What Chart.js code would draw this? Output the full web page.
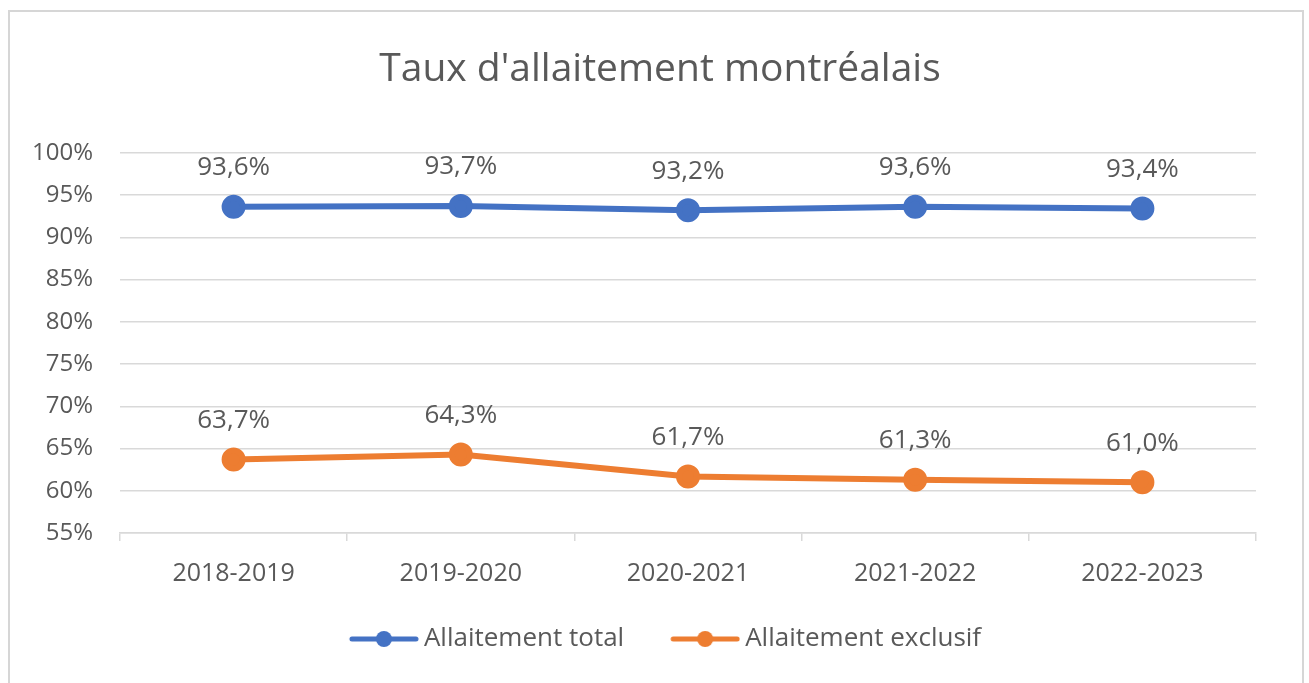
<!DOCTYPE html>
<html>
<head>
<meta charset="utf-8">
<script src="https://cdn.jsdelivr.net/npm/chart.js@4"></script>
<style>
  html, body { margin: 0; padding: 0; background: #fff; overflow: hidden; }
  #wrap { position: relative; width: 1309px; height: 683px; overflow: hidden; }
  #frame { position: absolute; left: 8px; top: 10px; width: 1296px; height: 680px; border: 2px solid #d6d6d6; box-sizing: border-box; }
  canvas { position: absolute; left: 0; top: 0; }
</style>
</head>
<body>
<div id="wrap">
  <div id="frame"></div>
  <canvas id="chart" width="1320" height="683"></canvas>
</div>
<script>
const labels = ['2018-2019', '2019-2020', '2020-2021', '2021-2022', '2022-2023'];
const totalData = [93.6, 93.7, 93.2, 93.6, 93.4];
const exclusifData = [63.7, 64.3, 61.7, 61.3, 61.0];
const yTicks = [55, 60, 65, 70, 75, 80, 85, 90, 95, 100];

const textColor = '#595959';
const blue = '#4472C4';
const orange = '#ED7D31';

// legend marker: line with a dot, drawn in the right 70px of the canvas
function legendMarker(color) {
    const c = document.createElement('canvas');
    c.width = 88;
    c.height = 20;
    const g = c.getContext('2d');
    g.strokeStyle = color;
    g.lineWidth = 5;
    g.lineCap = 'round';
    g.beginPath();
    g.moveTo(21, 10);
    g.lineTo(85, 10);
    g.stroke();
    g.fillStyle = color;
    g.beginPath();
    g.arc(53, 10, 8, 0, Math.PI * 2);
    g.fill();
    return c;
}

const fmt = v => v.toFixed(1).replace('.', ',') + '%';

const valueLabels = {
    id: 'valueLabels',
    afterDatasetsDraw(chart) {
        const ctx = chart.ctx;
        ctx.save();
        ctx.font = '26px "Open Sans"';
        ctx.fillStyle = textColor;
        ctx.textAlign = 'center';
        ctx.textBaseline = 'middle';
        chart.data.datasets.forEach((ds, i) => {
            chart.getDatasetMeta(i).data.forEach((pt, j) => {
                ctx.fillText(fmt(ds.data[j]), pt.x, pt.y - 39);
            });
        });
        ctx.restore();
    }
};

const ctx = document.getElementById('chart').getContext('2d');
new Chart(ctx, {
    type: 'line',
    data: {
        labels: labels,
        datasets: [
            {
                label: 'Allaitement total',
                data: totalData,
                borderColor: blue,
                backgroundColor: blue,
                borderWidth: 6,
                pointRadius: 9,
                pointHoverRadius: 9,
                tension: 0
            },
            {
                label: 'Allaitement exclusif',
                data: exclusifData,
                borderColor: orange,
                backgroundColor: orange,
                borderWidth: 6,
                pointRadius: 9,
                pointHoverRadius: 9,
                tension: 0
            }
        ]
    },
    options: {
        responsive: false,
        animation: false,
        layout: { padding: { left: 0, right: 0, top: 0, bottom: 21 } },
        plugins: {
            title: {
                display: true,
                text: "Taux d'allaitement montréalais",
                color: textColor,
                font: { family: 'Open Sans', size: 39, weight: 'normal' },
                padding: { top: 46, bottom: 60 }
            },
            legend: {
                position: 'bottom',
                labels: {
                    usePointStyle: true,
                    pointStyleWidth: 72,
                    color: textColor,
                    font: { family: 'Open Sans', size: 26 },
                    padding: 36,
                    generateLabels(chart) {
                        return chart.data.datasets.map((ds, i) => ({
                            text: ds.label,
                            fontColor: textColor,
                            pointStyle: legendMarker(ds.borderColor),
                            datasetIndex: i,
                            hidden: false,
                            lineWidth: 0
                        }));
                    }
                }
            },
            tooltip: { enabled: false }
        },
        scales: {
            x: {
                offset: true,
                grid: { offset: true, drawOnChartArea: false, drawTicks: true, tickLength: 8, color: '#d9d9d9', lineWidth: 1.5 },
                border: { display: true, color: '#d9d9d9', width: 1.5 },
                ticks: { color: textColor, font: { family: 'Open Sans', size: 25 }, padding: 18 },
                afterFit(scale) { scale.height = 57; }
            },
            y: {
                min: 55,
                max: 100,
                afterBuildTicks(scale) { scale.ticks = yTicks.map(v => ({ value: v })); },
                grid: { drawTicks: false, color: '#d9d9d9', lineWidth: 1.5 },
                border: { display: false },
                ticks: {
                    color: textColor,
                    font: { family: 'Open Sans', size: 24 },
                    padding: 27,
                    callback: v => v + '%'
                },
                afterFit(scale) { scale.width = 120; }
            },
            // empty right-hand spacer so the plot ends where the reference does
            spacer: {
                position: 'right',
                grid: { display: false },
                border: { display: false },
                ticks: { display: false },
                afterFit(scale) { scale.width = 64; }
            }
        }
    },
    plugins: [valueLabels]
});
</script>
</body>
</html>
